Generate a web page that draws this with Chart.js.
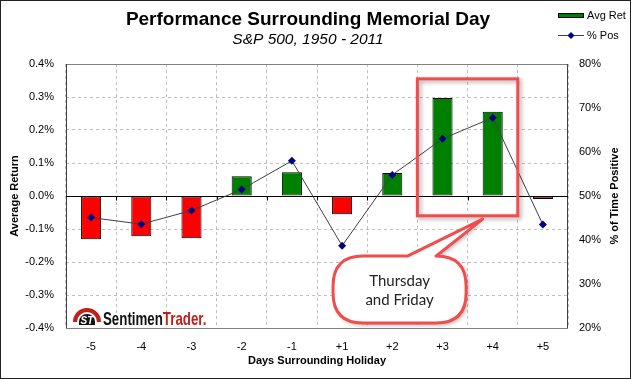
<!DOCTYPE html>
<html><head><meta charset="utf-8">
<script src="https://cdn.jsdelivr.net/npm/chart.js@4/dist/chart.umd.min.js"></script>
<style>html,body{margin:0;padding:0;background:#fff}#wrap{width:631px;height:379px;position:relative}</style>
</head><body><div id="wrap"><canvas id="c" width="631" height="379"></canvas></div>
<script>
const categories = ['-5','-4','-3','-2','-1','+1','+2','+3','+4','+5'];
const avgReturn = [-0.131, -0.122, -0.128, 0.060, 0.072, -0.055, 0.070, 0.297, 0.255, -0.009];
const pctPositive = [45.1, 43.6, 46.7, 51.5, 58.0, 38.7, 54.8, 63.0, 67.8, 43.5];
const titleText = 'Performance Surrounding Memorial Day';
const subtitleText = 'S&P 500, 1950 - 2011';
const xTitle = 'Days Surrounding Holiday';
const leftTitle = 'Average Return';
const rightTitle = '% of Time Positive';
const calloutLines = ['Thursday', 'and Friday'];
const legendLabels = ['Avg Ret', '% Pos'];

const FONT = '"Liberation Sans", Arial, sans-serif';
const RED_ANN = '#f24c4c';

const decor = {
  id: 'decor',
  beforeDatasetsDraw(chart) {
    const ctx = chart.ctx, a = chart.chartArea, y = chart.scales.y, x = chart.scales.x;
    ctx.save();
    ctx.strokeStyle = '#808080'; ctx.lineWidth = 1;
    ctx.strokeRect(Math.round(a.left) + 0.5, Math.round(a.top) + 0.5, Math.round(a.right - a.left) - 1, Math.round(a.bottom - a.top));
    ctx.strokeStyle = '#404040';
    ctx.beginPath();
    ctx.moveTo(Math.round(a.left) + 0.5, a.top); ctx.lineTo(Math.round(a.left) + 0.5, a.bottom);
    ctx.moveTo(Math.round(a.right) - 0.5, a.top); ctx.lineTo(Math.round(a.right) - 0.5, a.bottom);
    ctx.stroke();
    const zy = Math.round(y.getPixelForValue(0)) + 0.5;
    ctx.strokeStyle = '#000';
    ctx.beginPath();
    ctx.moveTo(a.left, zy); ctx.lineTo(a.right, zy);
    const step = (a.right - a.left) / categories.length;
    for (let i = 1; i < categories.length; i++) {
      const px = Math.round(x.getPixelForValue(i) - step / 2) + 0.5;
      ctx.moveTo(px, zy); ctx.lineTo(px, zy + 4);
    }
    ctx.stroke();
    ctx.restore();
  },
  afterDraw(chart) {
    const ctx = chart.ctx, a = chart.chartArea, x = chart.scales.x, y = chart.scales.y;
    const W = chart.width, H = chart.height;
    ctx.save();
    ctx.fillStyle = '#000';
    ctx.textAlign = 'center'; ctx.textBaseline = 'middle';
    ctx.font = 'bold 19px ' + FONT;
    ctx.fillText(titleText, 308, 20);
    ctx.font = 'italic 15.5px ' + FONT;
    ctx.fillText(subtitleText, 308, 40);
    ctx.font = 'bold 11px ' + FONT;
    ctx.fillText(xTitle, (a.left + a.right) / 2, 361);
    ctx.save(); ctx.translate(15, (a.top + a.bottom) / 2); ctx.rotate(-Math.PI / 2);
    ctx.fillText(leftTitle, 0, 0); ctx.restore();
    ctx.save(); ctx.translate(615, (a.top + a.bottom) / 2); ctx.rotate(-Math.PI / 2);
    ctx.fillText(rightTitle, 0, 0); ctx.restore();
    // legend
    ctx.fillStyle = '#008000'; ctx.strokeStyle = '#000'; ctx.lineWidth = 1;
    ctx.fillRect(558, 13, 26, 5); ctx.strokeRect(558.5, 13.5, 25, 4);
    ctx.strokeStyle = '#404040';
    ctx.beginPath(); ctx.moveTo(558, 35.5); ctx.lineTo(584, 35.5); ctx.stroke();
    ctx.fillStyle = '#000080';
    ctx.beginPath(); ctx.moveTo(571, 32); ctx.lineTo(574.5, 35.5); ctx.lineTo(571, 39); ctx.lineTo(567.5, 35.5); ctx.closePath(); ctx.fill();
    ctx.fillStyle = '#000'; ctx.textAlign = 'left'; ctx.font = '11px ' + FONT;
    ctx.fillText(legendLabels[0], 587, 16);
    ctx.fillText(legendLabels[1], 587, 36);
    // logo
    ctx.save();
    ctx.fillStyle = '#c0201a';
    ctx.beginPath(); ctx.arc(87, 322, 14, Math.PI, 2 * Math.PI); ctx.arc(87, 322, 10, 2 * Math.PI, Math.PI, true); ctx.closePath(); ctx.fill();
    ctx.fillStyle = '#111';
    ctx.beginPath(); ctx.arc(87, 322, 8, Math.PI, 2 * Math.PI); ctx.lineTo(95, 325); ctx.lineTo(79, 325); ctx.closePath(); ctx.fill();
    ctx.fillStyle = '#fff';
    ctx.font = 'bold italic 10px ' + FONT; ctx.textAlign = 'center'; ctx.textBaseline = 'alphabetic';
    ctx.fillText('ST', 87, 324);
    ctx.translate(103, 325); ctx.scale(0.7, 1);
    ctx.font = 'bold 19px ' + FONT; ctx.textAlign = 'left';
    ctx.fillStyle = '#111'; ctx.fillText('Sentimen', 0, 0);
    const sw = ctx.measureText('Sentimen').width;
    ctx.fillStyle = '#c0201a'; ctx.fillText('Trader.', sw, 0);
    ctx.restore();
    // highlight box around +3, +4
    const step = (a.right - a.left) / categories.length;
    const bx1 = x.getPixelForValue(7) - step / 2, bx2 = x.getPixelForValue(8) + step / 2;
    const by1 = y.getPixelForValue(0.355), by2 = y.getPixelForValue(-0.06);
    ctx.save();
    ctx.shadowColor = 'rgba(0,0,0,0.35)'; ctx.shadowBlur = 4; ctx.shadowOffsetX = 2; ctx.shadowOffsetY = 2;
    ctx.strokeStyle = RED_ANN; ctx.lineWidth = 3;
    ctx.strokeRect(bx1, by1, bx2 - bx1, by2 - by1);
    ctx.restore();
    // callout bubble
    const cx1 = x.getPixelForValue(4.82), cx2 = x.getPixelForValue(7.47);
    const cy1 = y.getPixelForValue(-0.182), cy2 = y.getPixelForValue(-0.385);
    const r = 30;
    const tb1 = x.getPixelForValue(6.3), tb2 = x.getPixelForValue(6.87);
    const tipX = x.getPixelForValue(7.8), tipY = y.getPixelForValue(-0.07);
    ctx.save();
    ctx.beginPath();
    ctx.moveTo(cx1 + r, cy1);
    ctx.lineTo(tb1, cy1);
    ctx.lineTo(tipX, tipY);
    ctx.lineTo(tb2, cy1);
    ctx.lineTo(cx2 - r, cy1);
    ctx.quadraticCurveTo(cx2, cy1, cx2, cy1 + r);
    ctx.lineTo(cx2, cy2 - r);
    ctx.quadraticCurveTo(cx2, cy2, cx2 - r, cy2);
    ctx.lineTo(cx1 + r, cy2);
    ctx.quadraticCurveTo(cx1, cy2, cx1, cy2 - r);
    ctx.lineTo(cx1, cy1 + r);
    ctx.quadraticCurveTo(cx1, cy1, cx1 + r, cy1);
    ctx.closePath();
    ctx.shadowColor = 'rgba(0,0,0,0.35)'; ctx.shadowBlur = 4; ctx.shadowOffsetX = 2; ctx.shadowOffsetY = 2;
    ctx.fillStyle = '#fff'; ctx.fill();
    ctx.shadowColor = 'transparent';
    ctx.strokeStyle = RED_ANN; ctx.lineWidth = 3; ctx.lineJoin = 'round'; ctx.stroke();
    ctx.restore();
    ctx.fillStyle = '#222'; ctx.textAlign = 'center'; ctx.textBaseline = 'middle';
    ctx.font = '15px Lato, "Open Sans", sans-serif';
    const tcx = (cx1 + cx2) / 2;
    ctx.fillText(calloutLines[0], tcx, 281);
    ctx.fillText(calloutLines[1], tcx, 300);
    ctx.strokeStyle = '#222'; ctx.lineWidth = 1;
    ctx.strokeRect(0.5, 0.5, W - 1, H - 1);
    ctx.restore();
  }
};

new Chart(document.getElementById('c'), {
  data: {
    labels: categories,
    datasets: [
      {
        type: 'line', label: legendLabels[1], data: pctPositive, yAxisID: 'y2', order: 0,
        borderColor: '#404040', borderWidth: 1, pointStyle: 'rectRot', pointRadius: 4,
        pointBackgroundColor: '#000080', pointBorderColor: '#000080', pointBorderWidth: 0, tension: 0
      },
      {
        type: 'bar', label: legendLabels[0], data: avgReturn, yAxisID: 'y', order: 1,
        backgroundColor: avgReturn.map(v => v < 0 ? '#ff0000' : '#008000'),
        borderColor: '#000', borderWidth: 1, borderSkipped: false,
        barPercentage: 0.4, categoryPercentage: 1
      }
    ]
  },
  options: {
    responsive: false, animation: false, devicePixelRatio: 1,
    layout: { padding: { top: 64, left: 0, right: 0, bottom: 0 } },
    plugins: { legend: { display: false }, title: { display: false }, tooltip: { enabled: false } },
    scales: {
      x: {
        offset: true,
        grid: { offset: true, color: '#c0c0c0', drawTicks: false },
        border: { display: false, dash: [3, 3] },
        ticks: { color: '#000', font: { family: FONT, size: 11 }, padding: 12, maxRotation: 0 },
        afterFit(s) { s.height = 51; }
      },
      y: {
        position: 'left', min: -0.4, max: 0.4,
        grid: { color: '#c0c0c0', drawTicks: false },
        border: { display: false, dash: [3, 3] },
        ticks: { stepSize: 0.1, color: '#000', font: { family: FONT, size: 11 }, padding: 12,
          callback: v => v.toFixed(1) + '%' },
        afterFit(s) { s.width = 66; }
      },
      y2: {
        position: 'right', min: 20, max: 80,
        grid: { display: false, drawTicks: false },
        border: { display: false },
        ticks: { stepSize: 10, color: '#000', font: { family: FONT, size: 11 }, padding: 11,
          callback: v => v + '%' },
        afterFit(s) { s.width = 63; }
      }
    }
  },
  plugins: [decor]
});
</script>
</body></html>
